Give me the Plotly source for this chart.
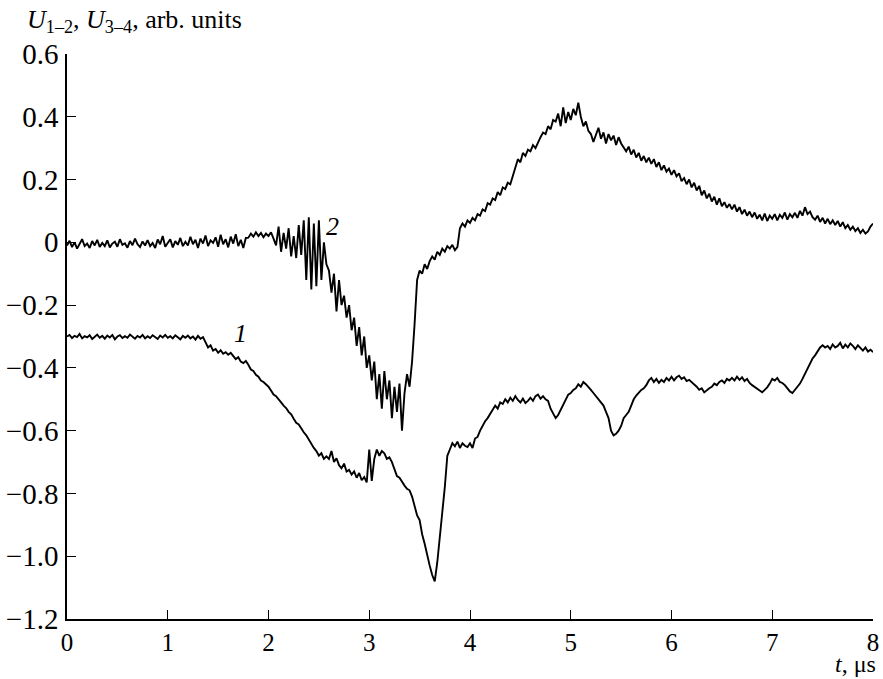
import numpy as np
import plotly.graph_objects as go

# Time base, microseconds (0 .. 8 us, 0.025 us step)
t_us = np.round(np.arange(321) * 0.025, 4)

# Signal 2 (U_3-4), arb. units, 8 samples per 0.2 us row
u2 = [
    -0.01, 0.005, -0.015, 0.0, -0.02, -0.005, 0.01, -0.012,
    -0.004, -0.018, 0.004, -0.01, 0.008, -0.015, -0.002, -0.012,
    0.006, -0.016, -0.004, 0.002, -0.014, 0.01, -0.008, -0.003,
    -0.017, 0.004, -0.009, 0.012, -0.006, -0.015, 0.003, -0.01,
    0.007, -0.012, -0.002, -0.018, 0.009, -0.006, 0.02, -0.014,
    -0.003, 0.01, -0.016, 0.004, -0.008, 0.014, -0.012, 0.002,
    -0.01, 0.018, -0.006, 0.008, -0.018, 0.012, -0.004, 0.022,
    -0.012, 0.006, -0.002, 0.016, -0.014, 0.024, -0.006, 0.01,
    -0.016, 0.018, -0.004, 0.026, -0.012, 0.008, -0.018, 0.014,
    0.015, 0.028, 0.018, 0.032, 0.02, 0.03, 0.016, 0.028,
    0.02, 0.032, 0.012, -0.01, 0.05, -0.03, 0.03, -0.02,
    0.045, -0.045, 0.02, -0.05, 0.055, -0.04, 0.07, -0.12,
    0.08, -0.15, 0.06, -0.14, 0.07, -0.12, 0.0, -0.07,
    -0.09, -0.16, -0.1, -0.22, -0.12, -0.2, -0.17, -0.24,
    -0.2, -0.28, -0.24, -0.33, -0.27, -0.36, -0.3, -0.4,
    -0.36, -0.44, -0.38, -0.5, -0.42, -0.53, -0.41, -0.5,
    -0.44, -0.56, -0.46, -0.54, -0.45, -0.6, -0.48, -0.42,
    -0.46, -0.38, -0.26, -0.12, -0.09, -0.1, -0.07, -0.085,
    -0.06, -0.045, -0.055, -0.03, -0.04, -0.02, -0.03, -0.012,
    -0.02, -0.008, -0.025, -0.015, 0.045, 0.06, 0.05, 0.07,
    0.062, 0.078, 0.07, 0.09, 0.085, 0.105, 0.1, 0.125,
    0.12, 0.14, 0.135, 0.16, 0.15, 0.175, 0.17, 0.19,
    0.185, 0.21, 0.24, 0.265, 0.255, 0.285, 0.275, 0.295,
    0.29, 0.31, 0.3, 0.32, 0.335, 0.35, 0.345, 0.37,
    0.36, 0.39, 0.385, 0.41, 0.37, 0.43, 0.38, 0.415,
    0.39, 0.425, 0.405, 0.445, 0.4, 0.37, 0.385, 0.355,
    0.345, 0.32, 0.34, 0.365, 0.33, 0.35, 0.315, 0.345,
    0.325, 0.34, 0.31, 0.335, 0.315, 0.3, 0.29, 0.305,
    0.28, 0.295, 0.27, 0.285, 0.26, 0.275, 0.255, 0.27,
    0.25, 0.265, 0.24, 0.255, 0.23, 0.245, 0.225, 0.235,
    0.215, 0.23, 0.21, 0.22, 0.195, 0.205, 0.185, 0.2,
    0.175, 0.19, 0.165, 0.18, 0.15, 0.165, 0.14, 0.155,
    0.13, 0.145, 0.12, 0.14, 0.115, 0.128, 0.11, 0.122,
    0.105, 0.12, 0.098, 0.112, 0.09, 0.104, 0.085, 0.098,
    0.08, 0.095, 0.075, 0.088, 0.07, 0.092, 0.068, 0.085,
    0.075, 0.09, 0.07, 0.088, 0.078, 0.095, 0.072, 0.09,
    0.08, 0.094, 0.078, 0.1, 0.085, 0.112, 0.09, 0.098,
    0.08, 0.072, 0.085, 0.065, 0.078, 0.06, 0.075, 0.058,
    0.07, 0.055, 0.068, 0.05, 0.064, 0.045, 0.055, 0.04,
    0.05, 0.036, 0.045, 0.03, 0.04, 0.028, 0.035, 0.05,
    0.06,
]

# Signal 1 (U_1-2), arb. units
u1 = [
    -0.30, -0.295, -0.305, -0.298, -0.302, -0.292, -0.306, -0.299,
    -0.303, -0.296, -0.308, -0.3, -0.294, -0.304, -0.298, -0.307,
    -0.297, -0.303, -0.295, -0.309, -0.3, -0.296, -0.305, -0.299,
    -0.304, -0.294, -0.302, -0.307, -0.298, -0.303, -0.295, -0.306,
    -0.299, -0.305, -0.296, -0.302, -0.308, -0.297, -0.303, -0.295,
    -0.304, -0.299, -0.306, -0.296, -0.302, -0.309, -0.298, -0.304,
    -0.297, -0.306, -0.3, -0.31, -0.298, -0.307, -0.302, -0.32,
    -0.335, -0.328, -0.345, -0.34, -0.352, -0.344, -0.355, -0.35,
    -0.358, -0.352, -0.362, -0.372, -0.366, -0.38, -0.385, -0.378,
    -0.39, -0.405, -0.41, -0.422, -0.428, -0.44, -0.445, -0.452,
    -0.46, -0.472, -0.485, -0.49, -0.502, -0.51, -0.52, -0.528,
    -0.54, -0.548, -0.562, -0.575, -0.58, -0.595, -0.605, -0.615,
    -0.63, -0.64, -0.655, -0.665, -0.68, -0.672, -0.69, -0.682,
    -0.69, -0.665, -0.7, -0.688, -0.71, -0.72, -0.705, -0.73,
    -0.725, -0.74, -0.73, -0.75, -0.735, -0.758, -0.748, -0.765,
    -0.66, -0.76, -0.69, -0.66, -0.68, -0.665, -0.672, -0.69,
    -0.685, -0.7, -0.72, -0.745, -0.75, -0.765, -0.775, -0.785,
    -0.79, -0.81, -0.84, -0.87, -0.885, -0.93, -0.96, -1.0,
    -1.03, -1.06, -1.08, -1.02, -0.93, -0.86, -0.78, -0.68,
    -0.66, -0.64, -0.65, -0.635, -0.655, -0.64, -0.648, -0.652,
    -0.64, -0.655, -0.625, -0.62, -0.6, -0.585, -0.57, -0.56,
    -0.545, -0.535, -0.52, -0.53, -0.51, -0.515, -0.5, -0.51,
    -0.495, -0.505, -0.49, -0.502, -0.51, -0.498, -0.512, -0.505,
    -0.495, -0.505, -0.49, -0.485, -0.498, -0.49, -0.5, -0.505,
    -0.53, -0.545, -0.56, -0.55, -0.535, -0.52, -0.5, -0.485,
    -0.48, -0.47, -0.465, -0.452, -0.46, -0.445, -0.452, -0.46,
    -0.47, -0.48, -0.49, -0.5, -0.51, -0.52, -0.54, -0.56,
    -0.6, -0.615, -0.61, -0.6, -0.585, -0.56, -0.55, -0.54,
    -0.52, -0.5, -0.488, -0.478, -0.47, -0.465, -0.455, -0.44,
    -0.432, -0.445, -0.435, -0.448, -0.438, -0.445, -0.432, -0.44,
    -0.428, -0.44, -0.43, -0.425, -0.435, -0.43, -0.442, -0.438,
    -0.445, -0.455, -0.46, -0.47, -0.465, -0.478, -0.47, -0.465,
    -0.46, -0.45, -0.455, -0.445, -0.44, -0.448, -0.435, -0.44,
    -0.432, -0.44, -0.428, -0.438, -0.43, -0.442, -0.435, -0.448,
    -0.455, -0.46, -0.465, -0.472, -0.478, -0.47, -0.462, -0.45,
    -0.435, -0.44, -0.432, -0.445, -0.448, -0.455, -0.465, -0.475,
    -0.48, -0.47, -0.462, -0.45, -0.435, -0.42, -0.4, -0.385,
    -0.37, -0.36, -0.345, -0.335, -0.328, -0.335, -0.33, -0.34,
    -0.325, -0.335, -0.33, -0.32, -0.338, -0.326, -0.335, -0.322,
    -0.33, -0.34, -0.328, -0.338, -0.345, -0.335, -0.348, -0.342,
    -0.35,
]

x_ticks = [0, 1, 2, 3, 4, 5, 6, 7, 8]
y_ticks = [0.6, 0.4, 0.2, 0.0, -0.2, -0.4, -0.6, -0.8, -1.0, -1.2]
y_tick_text = ["0.6", "0.4", "0.2", "0", "\u22120.2", "\u22120.4", "\u22120.6",
               "\u22120.8", "\u22121.0", "\u22121.2"]

# Curve labels: (text, t, value)
curve_labels = [("2", 2.64, 0.05), ("1", 1.72, -0.29)]

FONT = "Liberation Serif, Times New Roman, serif"

fig = go.Figure()
for y in (u2, u1):
    fig.add_trace(go.Scatter(
        x=t_us, y=y, mode="lines",
        line=dict(color="black", width=1.9),
        showlegend=False, hoverinfo="skip",
    ))

for txt, tx, ty in curve_labels:
    fig.add_annotation(
        x=tx, y=ty, text=f"<i>{txt}</i>", showarrow=False,
        font=dict(family=FONT, size=26, color="black"),
    )

fig.add_annotation(
    xref="paper", yref="paper", x=-0.052, y=1.0, yshift=33,
    xanchor="left", yanchor="middle",
    text="<i>U</i><sub>1\u20132</sub>, <i>U</i><sub>3\u20134</sub>, arb. units",
    showarrow=False, font=dict(family=FONT, size=26, color="black"),
)
fig.add_annotation(
    xref="paper", yref="paper", x=1.0, y=0, xshift=4, yshift=-45,
    xanchor="right", yanchor="middle", borderpad=0,
    text="<i>t</i>, \u03bcs",
    showarrow=False, font=dict(family=FONT, size=24, color="black"),
)

axis_common = dict(
    showgrid=False, zeroline=False, showline=True,
    linecolor="black", linewidth=1.5, automargin=False,
    ticks="inside", ticklen=9, tickwidth=1.3, tickcolor="black",
)

fig.update_xaxes(range=[0, 8], tickvals=x_ticks,
                 tickfont=dict(family=FONT, size=25, color="black"),
                 **axis_common)
fig.update_yaxes(range=[-1.2, 0.6], tickvals=y_ticks, ticktext=y_tick_text,
                 tickfont=dict(family=FONT, size=29, color="black"),
                 ticklabelstandoff=1, **axis_common)

fig.update_layout(
    width=883, height=679,
    margin=dict(l=67, r=10, t=54, b=60),
    paper_bgcolor="white", plot_bgcolor="white",
    font=dict(family=FONT, size=26, color="black"),
)

fig.write_html("out.html")
